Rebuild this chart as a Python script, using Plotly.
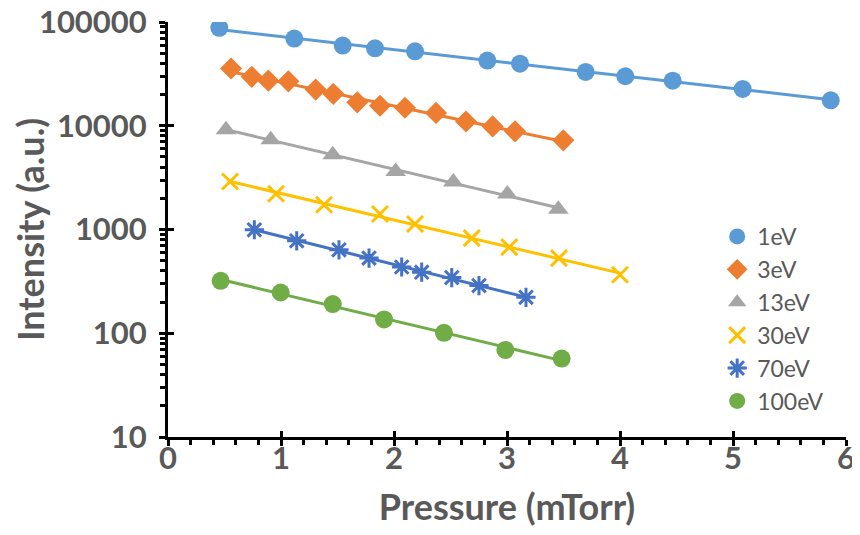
import numpy as np
import plotly.graph_objects as go

# ---- data ----
series_names = ["1eV", "3eV", "13eV", "30eV", "70eV", "100eV"]

x_1eV = [0.454, 1.118, 1.546, 1.832, 2.186, 2.826, 3.115, 3.696, 4.047, 4.466, 5.086, 5.865]
y_1eV = [87900, 69300, 59300, 55800, 52200, 42500, 39700, 33000, 30000, 27200, 22600, 17600]

x_3eV = [0.558, 0.741, 0.888, 1.065, 1.307, 1.463, 1.675, 1.876, 2.097, 2.372, 2.637, 2.873, 3.071, 3.498]
y_3eV = [35600, 29600, 27200, 26800, 22300, 20300, 16800, 15600, 14900, 13300, 11000, 9860, 8830, 7230]

x_13eV = [0.513, 0.909, 1.458, 2.015, 2.525, 3.003, 3.454]
y_13eV = [9160, 7340, 5260, 3630, 2870, 2200, 1570]

x_30eV = [0.549, 0.956, 1.381, 1.876, 2.186, 2.688, 3.020, 3.460, 4.000]
y_30eV = [2900, 2210, 1730, 1410, 1130, 826, 676, 530, 366]

x_70eV = [0.764, 1.139, 1.513, 1.779, 2.068, 2.245, 2.511, 2.752, 3.168]
y_70eV = [994, 778, 637, 530, 435, 388, 344, 288, 222]

x_100eV = [0.466, 0.997, 1.458, 1.912, 2.442, 2.985, 3.484]
y_100eV = [320, 247, 191, 136, 101, 69, 57]

y_tick_vals = [10, 100, 1000, 10000, 100000]
y_tick_text = ["10", "100", "1000", "10000", "100000"]
x_tick_vals = [0, 1, 2, 3, 4, 5, 6]

# ---- styles ----
colors = ["#5B9BD5", "#ED7D31", "#A5A5A5", "#FFC000", "#4472C4", "#70AD47"]
symbols = ["circle", "diamond", "triangle-up", "x-thin-open", "asterisk-open", "circle"]
sizes = [18, 17, 18, 16, 16, 18]

xs = [x_1eV, x_3eV, x_13eV, x_30eV, x_70eV, x_100eV]
ys = [y_1eV, y_3eV, y_13eV, y_30eV, y_70eV, y_100eV]

fig = go.Figure()
for name, x, y, c, s, sz in zip(series_names, xs, ys, colors, symbols, sizes):
    xa = np.array(x)
    ya = np.array(y, dtype=float)
    k, b = np.polyfit(xa, np.log10(ya), 1)
    xf = np.array([xa.min(), xa.max()])
    yf = 10 ** (k * xf + b)
    fig.add_trace(go.Scatter(x=xf, y=yf, mode="lines", line=dict(color=c, width=3),
                             showlegend=False, hoverinfo="skip"))
    open_sym = s.endswith("-open")
    fig.add_trace(go.Scatter(
        x=x, y=y, mode="markers", name=name,
        marker=dict(symbol=s, size=sz, color=c,
                    line=dict(color=c, width=3 if open_sym else 0)),
    ))

# invisible trace on the overlay axes (used only for crossing major ticks)
fig.add_trace(go.Scatter(x=[None], y=[None], xaxis="x2", yaxis="y2",
                         showlegend=False, hoverinfo="skip"))

font_family = "Lato, 'Open Sans', sans-serif"
grey = "#595959"

minor_y = [d * 10 ** k for k in range(1, 5) for d in range(2, 10)]

tick_font = dict(size=31, color=grey, weight="bold", family=font_family)
title_font = dict(size=36, color=grey, weight="bold", family=font_family)

# the page body adds an 8px offset, so the figure is 8px smaller on each axis
fig.update_layout(
    width=852, height=527,
    margin=dict(l=160, r=14, t=14, b=98),
    paper_bgcolor="white", plot_bgcolor="white",
    font=dict(family=font_family, color=grey),
    legend=dict(
        x=0.81, xanchor="left", y=0.535, yanchor="top",
        font=dict(size=23, color=grey, family=font_family),
        bgcolor="rgba(0,0,0,0)", itemsizing="trace",
    ),
    xaxis=dict(
        range=[0, 6], tickvals=x_tick_vals, showgrid=False, zeroline=False,
        showline=True, linecolor="black", linewidth=3, automargin=False,
        ticks="outside", ticklen=6, tickwidth=3, tickcolor="black",
        tickfont=tick_font, ticklabelstandoff=-14, ticklabeloverflow="allow",
        minor=dict(dtick=0.2, ticks="outside", ticklen=5, tickwidth=2.5, tickcolor="black", showgrid=False),
        title=dict(text="Pressure (mTorr)", standoff=20, font=title_font),
    ),
    yaxis=dict(
        type="log", range=[1, 5], tickvals=y_tick_vals, ticktext=y_tick_text,
        showgrid=False, zeroline=False, automargin=False,
        showline=True, linecolor="black", linewidth=3,
        ticks="outside", ticklen=6, tickwidth=3, tickcolor="black",
        tickfont=tick_font, ticklabelstandoff=6, ticklabeloverflow="allow",
        minor=dict(tickvals=minor_y, ticks="outside", ticklen=5, tickwidth=2.5, tickcolor="black", showgrid=False),
        title=dict(text="Intensity (a.u.)", standoff=1, font=title_font),
    ),
    xaxis2=dict(
        range=[0, 6], tickvals=x_tick_vals, overlaying="x", anchor="y2", side="bottom",
        showgrid=False, zeroline=False, showline=False, showticklabels=False,
        ticks="inside", ticklen=6, tickwidth=3, tickcolor="black", automargin=False,
    ),
    yaxis2=dict(
        type="log", range=[1, 5], tickvals=y_tick_vals, overlaying="y", anchor="x2", side="left",
        showgrid=False, zeroline=False, showline=False, showticklabels=False,
        ticks="inside", ticklen=6, tickwidth=3, tickcolor="black", automargin=False,
    ),
)

fig.write_html("out.html")
